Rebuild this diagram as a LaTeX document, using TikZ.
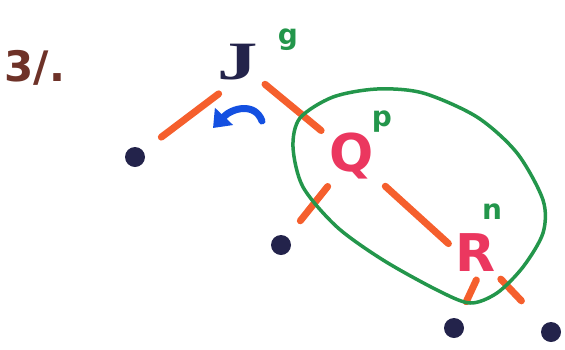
\documentclass[tikz,border=0pt]{standalone}
\usepackage{fontspec}
\setmainfont{DejaVu Sans}
\newfontfamily\serifink{Liberation Serif}
\usetikzlibrary{arrows.meta}
\definecolor{inkorange}{RGB}{245,95,45}
\definecolor{inkgreen}{RGB}{35,150,75}
\definecolor{inknavy}{RGB}{35,35,75}
\definecolor{inkpink}{RGB}{235,55,95}
\definecolor{inkblue}{RGB}{20,80,225}
\definecolor{inkbrown}{RGB}{110,50,40}
\begin{document}
\begin{tikzpicture}[x=1pt,y=-1pt,
  edge/.style={draw=inkorange,line width=7pt,line cap=round},
  dot/.style={circle,fill=inknavy,inner sep=0pt,minimum size=20pt},
  big/.style={font=\fontsize{52}{52}\selectfont\bfseries,inner sep=0pt},
  supl/.style={font=\fontsize{28}{28}\selectfont\bfseries,text=inkgreen,inner sep=0pt},
  loop/.style={draw=inkgreen,line width=3.5pt},
  turn/.style={draw=inkblue,line width=7pt,line cap=round,-{Triangle[length=16pt,width=24pt]}}]
\useasboundingbox (0,0) rectangle (565,349);
\node[big,text=inkbrown,font=\fontsize{42}{42}\selectfont\bfseries] (num) at (35,68) {3/.};
\node[big,text=inknavy,font=\fontsize{54}{54}\serifink\bfseries,xscale=1.5] (J) at (238,62) {J};
\node[supl] (Jg) at (288,40) {g};
\node[dot] (d1) at (135,157) {};
\node[big,text=inkpink] (Q) at (352,156) {Q};
\node[supl] (Qp) at (382,122) {p};
\node[dot] (d2) at (281,245) {};
\node[big,text=inkpink] (R) at (476,253) {R};
\node[supl] (Rn) at (492,212) {n};
\node[dot] (d3) at (454,328) {};
\node[dot] (d4) at (551,332) {};
\draw[edge,shorten <=18pt,shorten >=33pt] ([shift={(-5,21)}]J.center) -- (d1.center);
\draw[edge,shorten <=35pt,shorten >=40pt] (J.center) -- (Q.center);
\draw[edge,shorten <=39pt,shorten >=31pt] (Q.center) -- (d2.center);
\draw[edge,shorten <=45pt,shorten >=17pt] (Q.center) -- ([shift={(-15,2)}]R.center);
\draw[edge,shorten <=11pt,shorten >=29pt] ([shift={(5,17)}]R.center) -- (d3.center);
\draw[edge,shorten <=36pt,shorten >=43pt] (R.center) -- (d4.center);
\coordinate (bs) at (262,121);
\coordinate (be) at (213,128);
\draw[turn] (bs) .. controls (255,102) and (232,108) .. (be);
\draw[loop] plot[smooth cycle] coordinates {(300,118) (333,97) (377,89) (423,93) (477,117) (517,153) (543,200) (543,233) (523,267) (497,293) (470,303) (437,290) (383,260) (337,227) (303,187) (293,147)};
\end{tikzpicture}
\end{document}
